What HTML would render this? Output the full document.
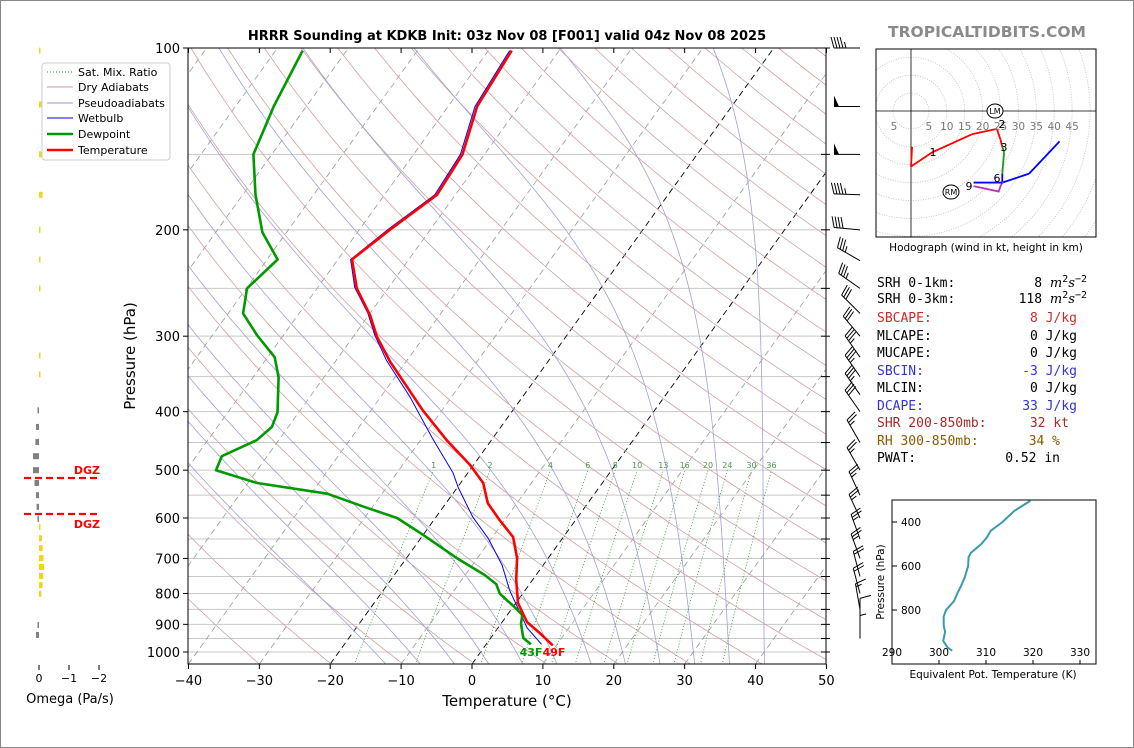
<!DOCTYPE html>
<html><head><meta charset="utf-8">
<style>
html,body{margin:0;padding:0;background:#fff;}
svg{display:block;font-family:"DejaVu Sans","Liberation Sans",sans-serif;}
.mono{font-family:"DejaVu Sans Mono","Liberation Mono",monospace;font-size:13px;}
</style></head>
<body>
<svg id="chart" width="1134" height="748" viewBox="0 0 1134 748" xmlns="http://www.w3.org/2000/svg">
<rect x="0.5" y="0.5" width="1133" height="747" fill="#fff" stroke="#888"/>
<defs><clipPath id="plotclip"><rect x="188" y="48" width="638" height="616"/></clipPath>
<clipPath id="hodoclip"><rect x="876" y="49" width="220" height="188"/></clipPath>
<clipPath id="theclip"><rect x="892" y="500" width="204" height="164"/></clipPath></defs>
<text x="507" y="40" text-anchor="middle" font-size="13" font-weight="bold">HRRR Sounding at KDKB Init: 03z Nov 08 [F001] valid 04z Nov 08 2025</text>
<text x="987" y="37" text-anchor="middle" font-size="15.5" font-weight="bold" fill="#8a8a8a">TROPICALTIDBITS.COM</text>
<g id="bg" clip-path="url(#plotclip)"></g>
<g id="traces" clip-path="url(#plotclip)"></g>
<g id="axes"></g>
<g id="barbs"></g>
<g id="omega"></g>
<g id="hodo"></g>
<g id="thetae"></g>
<g>
<rect x="42" y="63" width="128" height="97" rx="3" fill="#fff" stroke="#ccc"/>
<line x1="47" y1="72" x2="73" y2="72" stroke="#2a9a2a" stroke-dasharray="1,2"/>
<text x="78" y="76" font-size="11">Sat. Mix. Ratio</text>
<line x1="47" y1="87" x2="73" y2="87" stroke="#c99"/>
<text x="78" y="91" font-size="11">Dry Adiabats</text>
<line x1="47" y1="103" x2="73" y2="103" stroke="#99c"/>
<text x="78" y="107" font-size="11">Pseudoadiabats</text>
<line x1="47" y1="118" x2="73" y2="118" stroke="#00f"/>
<text x="78" y="122" font-size="11">Wetbulb</text>
<line x1="47" y1="134" x2="73" y2="134" stroke="#009900" stroke-width="2.5"/>
<text x="78" y="138" font-size="11">Dewpoint</text>
<line x1="47" y1="150" x2="73" y2="150" stroke="#f00" stroke-width="2.5"/>
<text x="78" y="154" font-size="11">Temperature</text>
</g>
<g class="mono">
<text x="877" y="287">SRH 0-1km:</text><text x="1087" y="287" text-anchor="end">8 <tspan font-style="italic" font-family="DejaVu Serif,serif">m</tspan><tspan font-size="10" dy="-5">2</tspan><tspan dy="5" font-style="italic" font-family="DejaVu Serif,serif">s</tspan><tspan font-size="10" dy="-5">−2</tspan></text>
<text x="877" y="303">SRH 0-3km:</text><text x="1087" y="303" text-anchor="end">118 <tspan font-style="italic" font-family="DejaVu Serif,serif">m</tspan><tspan font-size="10" dy="-5">2</tspan><tspan dy="5" font-style="italic" font-family="DejaVu Serif,serif">s</tspan><tspan font-size="10" dy="-5">−2</tspan></text>
<text x="877" y="322" fill="#d62728">SBCAPE:</text><text x="1077" y="322" text-anchor="end" fill="#d62728">8 J/kg</text>
<text x="877" y="340">MLCAPE:</text><text x="1077" y="340" text-anchor="end">0 J/kg</text>
<text x="877" y="357">MUCAPE:</text><text x="1077" y="357" text-anchor="end">0 J/kg</text>
<text x="877" y="375" fill="#3333dd">SBCIN:</text><text x="1077" y="375" text-anchor="end" fill="#3333dd">-3 J/kg</text>
<text x="877" y="392">MLCIN:</text><text x="1077" y="392" text-anchor="end">0 J/kg</text>
<text x="877" y="410" fill="#3333dd">DCAPE:</text><text x="1077" y="410" text-anchor="end" fill="#3333dd">33 J/kg</text>
<text x="877" y="427" fill="#a52a2a">SHR 200-850mb:</text><text x="1069" y="427" text-anchor="end" fill="#a52a2a">32 kt</text>
<text x="877" y="445" fill="#8b5a00">RH 300-850mb:</text><text x="1060" y="445" text-anchor="end" fill="#8b5a00">34 %</text>
<text x="877" y="462">PWAT:</text><text x="1060" y="462" text-anchor="end">0.52 in</text>
</g>
</svg>
<script>
// ---------- DATA ----------
const tempP = [975,930,892,830,760,699,645,605,567,525,490,446,398,331,301,277,250,224,200,175,150,125,101];
const tempT = [9.5,6.4,3.5,0.3,-2.3,-4.4,-7.1,-10.7,-14.1,-16.8,-20.5,-26.3,-32.7,-42.2,-46.6,-49.8,-54.4,-58.0,-55.7,-52.6,-53.1,-55.9,-56.7];
const dewP = [971,948,897,868,845,801,772,746,699,640,600,577,547,525,500,474,446,424,401,351,325,299,275,250,224,202,175,150,125,101];
const dewT = [6.3,4.6,2.8,2.1,0.4,-3.2,-4.7,-7.2,-12.9,-20.0,-25.4,-30.7,-37.7,-48.7,-55.8,-56.4,-53.1,-52.3,-53.0,-56.4,-59.0,-63.7,-67.9,-69.9,-68.5,-73.4,-78.2,-82.6,-84.6,-86.2];
const wbP = [971,912,790,718,648,598,535,505,442,378,329,299,275,249,224,200,175,150,125,101];
const wbT = [7.8,4.1,-2.2,-5.8,-10.5,-14.8,-19.8,-22.1,-28.6,-35.9,-42.9,-47.1,-50.3,-54.8,-58.2,-56.0,-52.9,-53.4,-56.2,-57.0];
const pressureTicks = [100,200,300,400,500,600,700,800,900,1000];
const tempTicks = [-40,-30,-20,-10,0,10,20,30,40,50];
const mixRatios = [1,2,4,6,8,10,13,16,20,24,30,36];
const barbP = [100,125,150,175,200,225,250,275,300,325,350,375,400,450,500,550,600,650,700,750,800,850,900,950];
const barbSpd = [45,50,50,45,40,35,35,30,30,35,35,35,30,25,25,25,25,25,25,20,20,15,10,5];
const barbDir = [270,270,270,272,275,300,305,315,320,325,325,325,325,330,330,335,335,340,340,345,345,350,0,0];
const omegaP = [101,124,150,175,200,224,250,323,347,398,424,449,474,500,525,550,575,602,621,648,673,699,723,748,775,801,902,937];
const omegaV = [-0.03,-0.1,-0.15,-0.12,-0.05,-0.05,-0.03,-0.03,-0.03,0.05,0.1,0.12,0.2,0.2,0.15,0.1,0.08,0.05,-0.05,-0.1,-0.12,-0.15,-0.17,-0.14,-0.12,-0.08,0.03,0.1];
const hodoU = [0.3,0,6,17,24,25,25.5,26,25.5,25.5,33,41.5];
const hodoV = [-10,-15.5,-11.5,-6.5,-5,-8,-10,-11.5,-17.5,-20,-17.5,-8.5];
const hodoSeg = ['r','r','r','r','r','r','r','g','g','b','b','b'];
const hodoPurpleU = [17.5,24.5,25,25.5,17.5];
const hodoPurpleV = [-21,-22.5,-21,-20,-20];
const thetaP = [304,350,400,440,470,500,540,560,600,650,690,720,760,800,830,870,900,940,970,985];
const thetaV = [319.4,316,313.5,311,310.2,309,306.8,306.3,306.2,305.5,304.7,304,303.2,301.5,301,301,301.3,300.9,301.8,302.8];

// ---------- AXES ----------
const NS='http://www.w3.org/2000/svg';
const X0=188,X1=826,YT=48,YB=664,PXC=638/90,SK=0.72;
function yP(p){return YT+604*Math.log10(p/100);}
function xT(t,y){return 472+t*PXC+(664-y)*SK;}
function mk(tag,attrs,parent){const e=document.createElementNS(NS,tag);for(const k in attrs)e.setAttribute(k,attrs[k]);parent.appendChild(e);return e;}
function pathFrom(ps,ts){let d='';for(let i=0;i<ps.length;i++){const y=yP(ps[i]);d+=(i?'L':'M')+xT(ts[i],y).toFixed(1)+','+y.toFixed(1);}return d;}
const bg=document.getElementById('bg'),tr=document.getElementById('traces'),ax=document.getElementById('axes');
for(let p=100;p<=1050;p+=50){const y=yP(p);const l=mk('line',{x1:X0,x2:X1,y1:y,y2:y,stroke:'#c8c8c8','stroke-width':1},bg);

}
for(let t=-130;t<=50;t+=10){const blk=(t===0||t===-20);const l=mk('line',{x1:xT(t,YB),y1:YB,x2:xT(t,YT),y2:YT,stroke:blk?'#000':'#999','stroke-width':blk?0.9:0.8,'stroke-dasharray':'6,4'},bg);

}
for(let th=230;th<=500;th+=10){let d='';for(let p=1050;p>=100;p-=10){const T=th*Math.pow(p/1000,0.2857)-273.15;const y=yP(p);d+=(p===1050?'M':'L')+xT(T,y).toFixed(1)+','+y.toFixed(1);}
const l=mk('path',{d:d,fill:'none',stroke:'#d4a0a0','stroke-width':0.8},bg);

}
function es(T){return 6.112*Math.exp(17.67*T/(T+243.5));}
function moist(T0){const pts=[];let Td=T0+273.15;
 for(let q=1000;q<1050;q+=5){const rs=0.622*es(Td-273.15)/(q-es(Td-273.15));const dT=(287*Td+2.5e6*rs)/(q*(1004+2.5e6*2.5e6*rs*0.622/(287*Td*Td)));Td+=dT*5;}
 let T=Td;for(let p=1050;p>=100;p-=5){pts.push([p,T-273.15]);const rs=0.622*es(T-273.15)/(p-es(T-273.15));const dT=(287*T+2.5e6*rs)/(p*(1004+2.5e6*2.5e6*rs*0.622/(287*T*T)));T-=dT*5;}
 return pts;}
for(let t=-15;t<=40;t+=5){const pts=moist(t);let d='';pts.forEach((q,i)=>{const y=yP(q[0]);d+=(i?'L':'M')+xT(q[1],y).toFixed(1)+','+y.toFixed(1);});
const l=mk('path',{d:d,fill:'none',stroke:'#a0a0d8','stroke-width':0.8},bg);

}
mixRatios.forEach(w=>{let d='';for(let p=1050;p>=500;p-=10){const e=w*p/(622+w);const lg=Math.log(e/6.112);const T=243.5*lg/(17.67-lg);const y=yP(p);d+=(p===1050?'M':'L')+xT(T,y).toFixed(1)+','+y.toFixed(1);}
const l=mk('path',{d:d,fill:'none',stroke:'#2e9a2e','stroke-width':0.8,'stroke-dasharray':'1,2'},bg);


const e=w*500/(622+w);const lg=Math.log(e/6.112);const T=243.5*lg/(17.67-lg);
const tx=mk('text',{x:xT(T,yP(500)).toFixed(1),y:yP(500)-2,'font-size':8,fill:'#4a9a4a','text-anchor':'middle'},bg);tx.textContent=w;

});
let pth=mk('path',{d:pathFrom(wbP,wbT),fill:'none',stroke:'#0000ff','stroke-width':1},tr);


pth=mk('path',{d:pathFrom(dewP,dewT),fill:'none',stroke:'#009900','stroke-width':2.6,'stroke-linejoin':'round'},tr);


pth=mk('path',{d:pathFrom(tempP,tempT),fill:'none',stroke:'#ff0000','stroke-width':2.6,'stroke-linejoin':'round'},tr);


let lb=mk('text',{x:531,y:656,'font-size':11,'font-weight':'bold',fill:'#009900','text-anchor':'middle'},ax);lb.textContent='43F';


lb=mk('text',{x:554,y:656,'font-size':11,'font-weight':'bold',fill:'#ff0000','text-anchor':'middle'},ax);lb.textContent='49F';


let fr=mk('rect',{x:X0,y:YT,width:X1-X0,height:YB-YT,fill:'none',stroke:'#000','stroke-width':1},ax);


pressureTicks.forEach(p=>{const y=yP(p);mk('line',{x1:X0-5,x2:X0,y1:y,y2:y,stroke:'#000'},ax);
const t=mk('text',{x:X0-8,y:y+5,'font-size':13,'text-anchor':'end'},ax);t.textContent=p;

});
for(let p=100;p<=1000;p+=50){const y=yP(p);mk('line',{x1:X1-5,x2:X1+4,y1:y,y2:y,stroke:'#000'},ax);}
tempTicks.forEach(t=>{const x=472+t*PXC;mk('line',{x1:x,x2:x,y1:YB,y2:YB+5,stroke:'#000'},ax);mk('line',{x1:x,x2:x,y1:YT,y2:YT+5,stroke:'#000'},ax);
const tx=mk('text',{x:x,y:685,'font-size':13,'text-anchor':'middle'},ax);tx.textContent=(t<0?'\u2212':'')+Math.abs(t);

});
let at=mk('text',{x:507,y:706,'font-size':15,'text-anchor':'middle'},ax);at.textContent='Temperature (°C)';


at=mk('text',{x:135,y:356,'font-size':15,'text-anchor':'middle',transform:'rotate(-90 135 356)'},ax);at.textContent='Pressure (hPa)';


// barbs
const bb=document.getElementById('barbs');
barbP.forEach((p,i)=>{const y=yP(p);const bx=860,L=26;const r=barbDir[i]*Math.PI/180;
 const sx=Math.sin(r),sy=-Math.cos(r);const tx=bx+L*sx,ty=y+L*sy;const fx=-sy,fy=sx;
 const g=mk('g',{},bb);
 
 
 mk('line',{x1:bx,y1:y,x2:tx,y2:ty,stroke:'#000','stroke-width':1},g);
 let s=Math.round(barbSpd[i]/5)*5;let pos=0;
 while(s>=50){const ax0=tx-sx*pos,ay0=ty-sy*pos;const ax1=tx-sx*(pos+5),ay1=ty-sy*(pos+5);
  mk('polygon',{points:`${ax0},${ay0} ${ax1},${ay1} ${ax0+fx*11},${ay0+fy*11}`,fill:'#000'},g);pos+=6;s-=50;}
 while(s>=10){const ax0=tx-sx*pos,ay0=ty-sy*pos;mk('line',{x1:ax0,y1:ay0,x2:ax0+fx*11+sx*3,y2:ay0+fy*11+sy*3,stroke:'#000','stroke-width':1},g);pos+=3;s-=10;}
 if(s>=5){if(pos===0)pos=3;const ax0=tx-sx*pos,ay0=ty-sy*pos;mk('line',{x1:ax0,y1:ay0,x2:ax0+fx*6+sx*1.5,y2:ay0+fy*6+sy*1.5,stroke:'#000','stroke-width':1},g);}
});
// omega
const om=document.getElementById('omega');const OX=39,OS=30;
omegaP.forEach((p,i)=>{const y=yP(p);const v=omegaV[i];const w=Math.max(1.5,Math.abs(v)*OS);
 const x=v>0?OX-w:OX;const r=mk('rect',{x:x,y:y-3,width:w,height:6,fill:v>0?'#808080':'#f5d31c'},om);
 
 });
[0,-1,-2].forEach(v=>{const x=OX-v*OS;mk('line',{x1:x,x2:x,y1:665,y2:670,stroke:'#000'},om);const t=mk('text',{x:x,y:682,'font-size':11,'text-anchor':'middle'},om);t.textContent=v===0?'0':'\u2212'+Math.abs(v);
 
 });
let ot=mk('text',{x:70,y:703,'font-size':13,'text-anchor':'middle'},om);ot.textContent='Omega (Pa/s)';


[478,514].forEach((y,i)=>{const l=mk('line',{x1:24,x2:98,y1:y,y2:y,stroke:'#f00','stroke-width':2.2,'stroke-dasharray':'7,4'},om);
 
 
 const t=mk('text',{x:100,y:i?528:474,'font-size':11,'font-weight':'bold',fill:'#f00','text-anchor':'end'},om);t.textContent='DGZ';
 
 });
// hodograph
const hd=document.getElementById('hodo');const HX=911,HY=111,HS=3.58;
const hc=mk('g',{'clip-path':'url(#hodoclip)'},hd);
for(let r=5;r<=80;r+=5){mk('circle',{cx:HX,cy:HY,r:r*HS,fill:'none',stroke:'#bbb','stroke-width':0.8,'stroke-dasharray':'1,1.5'},hc);}
mk('line',{x1:876,x2:1096,y1:HY,y2:HY,stroke:'#000','stroke-width':0.8},hc);
mk('line',{x1:HX,x2:HX,y1:49,y2:237,stroke:'#000','stroke-width':0.8},hc);
[5,10,15,20,25,30,35,40,45].forEach(v=>{const t=mk('text',{x:HX+v*HS,y:130,'font-size':10.5,fill:'#777','text-anchor':'middle'},hd);t.textContent=v;});
let t5=mk('text',{x:HX-17,y:130,'font-size':10.5,fill:'#777','text-anchor':'middle'},hd);t5.textContent='5';
const segCol={r:'#f00',g:'#1a9a1a',b:'#0000ff'};
function hpt(u,v){return [HX+u*HS,HY-v*HS];}
for(let i=1;i<hodoU.length;i++){const a=hpt(hodoU[i-1],hodoV[i-1]),b=hpt(hodoU[i],hodoV[i]);
 const l=mk('line',{x1:a[0],y1:a[1],x2:b[0],y2:b[1],stroke:segCol[hodoSeg[i]],'stroke-width':1.8},hc);
 
 }
let pd='';hodoPurpleU.forEach((u,i)=>{const q=hpt(u,hodoPurpleV[i]);pd+=(i?'L':'M')+q[0]+','+q[1];});
let pp=mk('path',{d:pd,fill:'none',stroke:'#bb33bb','stroke-width':1.8},hc);


mk('line',{x1:hpt(17.5,-20)[0],y1:hpt(17.5,-20)[1],x2:hpt(25.5,-20)[0],y2:hpt(25.5,-20)[1],stroke:'#0000ff','stroke-width':1.8},hc);
[['1',933,156],['2',1002,128],['3',1004,151],['6',997,182],['9',969,190]].forEach(a=>{const t=mk('text',{x:a[1],y:a[2],'font-size':11,'text-anchor':'middle'},hd);t.textContent=a[0];
 
 });
[['LM',995,111],['RM',951,192]].forEach(a=>{mk('ellipse',{cx:a[1],cy:a[2],rx:8,ry:7,fill:'#fff',stroke:'#000'},hd);const t=mk('text',{x:a[1],y:a[2]+3,'font-size':8,'text-anchor':'middle'},hd);t.textContent=a[0];
 
 });
mk('rect',{x:876,y:49,width:220,height:188,fill:'none',stroke:'#000'},hd);
let hl=mk('text',{x:986,y:251,'font-size':10.5,'text-anchor':'middle'},hd);hl.textContent='Hodograph (wind in kt, height in km)';


// theta-e
const te=document.getElementById('thetae');
function tx2(th){return 892+(th-290)*4.7;}function ty2(p){return 522+(p-400)*0.22;}
mk('rect',{x:892,y:500,width:204,height:164,fill:'#fff',stroke:'none'},te);
const tcl=mk('g',{'clip-path':'url(#theclip)'},te);
let td='';thetaP.forEach((p,i)=>{td+=(i?'L':'M')+tx2(thetaV[i]).toFixed(1)+','+ty2(p).toFixed(1);});
let tl=mk('path',{d:td,fill:'none',stroke:'#3a9aad','stroke-width':2},tcl);


mk('rect',{x:892,y:500,width:204,height:164,fill:'none',stroke:'#000'},te);
[400,600,800].forEach(p=>{const y=ty2(p);mk('line',{x1:892,x2:897,y1:y,y2:y,stroke:'#000'},te);const t=mk('text',{x:901,y:y+4,'font-size':10.5,'text-anchor':'start'},te);t.textContent=p;
 
 });
[290,300,310,320,330].forEach(v=>{const x=tx2(v);mk('line',{x1:x,x2:x,y1:664,y2:660,stroke:'#000'},te);const t=mk('text',{x:x,y:656,'font-size':10.5,'text-anchor':'middle'},te);t.textContent=v;
 
 });
let ta=mk('text',{x:993,y:678,'font-size':10.5,'text-anchor':'middle'},te);ta.textContent='Equivalent Pot. Temperature (K)';


ta=mk('text',{x:884,y:582,'font-size':10.5,'text-anchor':'middle',transform:'rotate(-90 884 582)'},te);ta.textContent='Pressure (hPa)';


</script>
</body></html>
